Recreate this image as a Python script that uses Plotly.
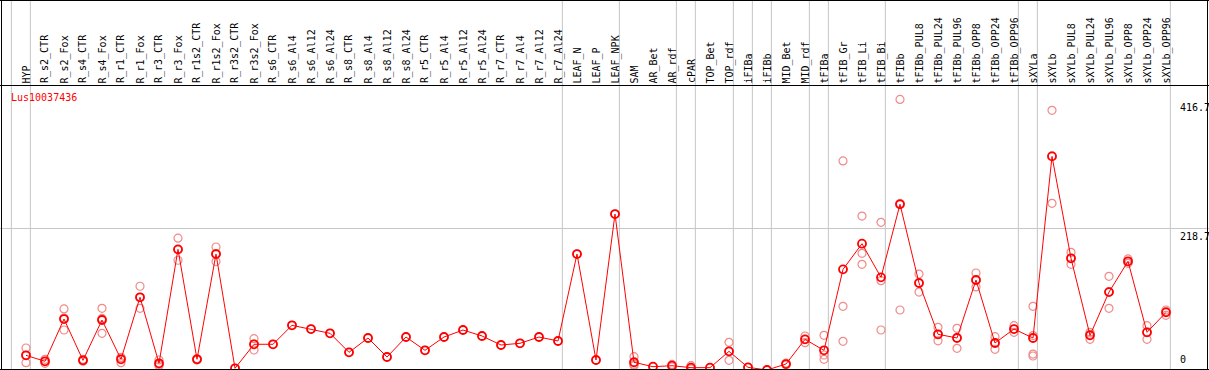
import plotly.graph_objects as go

W, H = 1209, 370

categories = [
    "HYP", "R_s2_CTR", "R_s2_Fox", "R_s4_CTR", "R_s4_Fox", "R_r1_CTR", "R_r1_Fox",
    "R_r3_CTR", "R_r3_Fox", "R_r1s2_CTR", "R_r1s2_Fox", "R_r3s2_CTR", "R_r3s2_Fox",
    "R_s6_CTR", "R_s6_Al4", "R_s6_Al12", "R_s6_Al24", "R_s8_CTR", "R_s8_Al4",
    "R_s8_Al12", "R_s8_Al24", "R_r5_CTR", "R_r5_Al4", "R_r5_Al12", "R_r5_Al24",
    "R_r7_CTR", "R_r7_Al4", "R_r7_Al12", "R_r7_Al24", "LEAF_N", "LEAF_P", "LEAF_NPK",
    "SAM", "AR_Bet", "AR_rdf", "cPAR", "TOP_Bet", "TOP_rdf", "iFIBa", "iFIBb",
    "MID_Bet", "MID_rdf", "tFIBa", "tFIB_Gr", "tFIB_Li", "tFIB_Bi", "tFIBb",
    "tFIBb_PUL8", "tFIBb_PUL24", "tFIBb_PUL96", "tFIBb_OPP8", "tFIBb_OPP24", "tFIBb_OPP96",
    "sXYLa", "sXYLb", "sXYLb_PUL8", "sXYLb_PUL24", "sXYLb_PUL96", "sXYLb_OPP8",
    "sXYLb_OPP24", "sXYLb_OPP96",
]

mean_values = [
    22.6, 13.4, 78.5, 14.9, 77.0, 16.5, 112.0, 10.3, 185.8, 16.5, 178.6, 2.6, 39.6,
    39.6, 68.8, 63.1, 56.5, 27.2, 49.3, 20.0, 50.8, 30.3, 50.8, 61.6, 52.4,
    38.5, 41.1, 50.8, 44.7, 178.6, 15.4, 240.2,
    11.9, 5.1, 6.6, 3.6, 3.6, 28.7, 4.1, 0.0, 9.2, 47.2, 30.3, 155.0, 194.5, 142.7, 255.2,
    134.0, 55.0, 49.3, 138.6, 41.6, 63.1,
    49.3, 329.0, 172.0, 53.4, 120.0, 167.4, 58.0, 88.8,
]

replicate_values = [
    [33.9, 11.3, 22.6], [10.3, 16.5, 13.4], [94.0, 61.6, 79.9], [14.9, 13.5, 16.3],
    [95.0, 56.5, 79.5], [19.5, 11.3, 18.7], [129.0, 95.0, 112.0], [15.4, 6.7, 8.8],
    [203.0, 169.0, 185.4], [15.5, 17.5, 16.5], [189.4, 167.0, 179.4], [2.6],
    [48.3, 30.8, 39.7],
    [39.6], [68.8], [63.1], [56.5], [27.2], [49.3], [20.0], [50.8], [30.3], [50.8],
    [61.6], [52.4], [38.5], [41.1], [50.8], [44.7], [178.6], [15.4], [240.2],
    [20.5, 6.6, 8.6], [5.1], [8.6, 4.6], [6.6, 1.6], [3.6], [42.6, 14.9, 28.6],
    [4.1], [0.0], [10.5, 8.0], [52.4, 42.1, 47.1], [53.4, 23.1, 16.4],
    [322.0, 98.0, 44.2], [237.0, 179.7, 162.7], [227.4, 137.6, 61.6],
    [416.7, 92.4, 256.5],
    [147.8, 120.0, 134.0], [65.7, 45.0, 55.0], [64.2, 33.4, 50.0],
    [149.4, 128.0, 138.5], [51.3, 31.8, 41.7], [68.3, 58.0, 63.0],
    [98.0, 24.6, 21.6, 53.0], [400.0, 256.7, 330.0], [181.2, 162.7, 172.0],
    [58.0, 47.2, 55.0], [144.2, 95.0, 120.8], [171.0, 164.3, 167.0],
    [68.3, 47.2, 58.5], [92.4, 84.2, 89.8],
]

# indices of the last category of each group (separator drawn just after them)
group_ends = [-1, 0, 28, 31, 34, 35, 37, 38, 39, 41, 42, 45, 52, 53, 60]

gene_name = "Lus10037436"
y_axis_max = 437.4
y_labels = ["416.7", "218.7", "0"]
y_label_vals = [416.7, 218.7, 0.0]

FONT = "DejaVu Sans Mono"

def px(x):
    return x / W

def py(y):
    return 1 - y / H

xi = list(range(len(categories)))
rep_x, rep_y = [], []
for i, reps in enumerate(replicate_values):
    for v in reps:
        rep_x.append(i)
        rep_y.append(v)

fig = go.Figure()
fig.add_trace(go.Scatter(
    x=rep_x, y=rep_y, mode="markers",
    marker=dict(symbol="circle-open", size=8, color="#f08a8a", line=dict(width=1.2)),
    hoverinfo="skip", showlegend=False,
))
fig.add_trace(go.Scatter(
    x=xi, y=mean_values, mode="lines+markers",
    line=dict(color="#ff0000", width=1),
    marker=dict(symbol="circle-open", size=8, color="#ff0000", line=dict(width=1.8)),
    showlegend=False,
))

x0 = -26 / 19
x1 = x0 + W / 19

shapes = []
for g in group_ends:
    shapes.append(dict(type="line", xref="x", yref="paper", x0=g + 0.23, x1=g + 0.23,
                       y0=0, y1=1, line=dict(color="#c6c6c6", width=1), layer="below"))
black = dict(color="#000000", width=1)
for (ax0, ay0, ax1, ay1) in [(0, 0.5, W, 0.5), (0, 85.5, W, 85.5), (0, 369.5, W, 369.5),
                             (1.5, 0, 1.5, H), (1207.5, 0, 1207.5, H)]:
    shapes.append(dict(type="line", xref="paper", yref="paper", x0=px(ax0), x1=px(ax1),
                       y0=py(ay0), y1=py(ay1), line=black, layer="above"))

annotations = [
    dict(text=gene_name, xref="paper", yref="paper", x=px(8.5), y=py(97), xanchor="left",
         yanchor="middle", showarrow=False, font=dict(family=FONT, size=10, color="#ff0000")),
]
for i, cat in enumerate(categories):
    annotations.append(dict(text=cat, xref="x", yref="paper", x=i, y=py(84.5),
                            xanchor="center", yanchor="bottom", textangle=-90,
                            showarrow=False, borderpad=0,
                            font=dict(family=FONT, size=10, color="#000000")))
for lab, val in zip(y_labels, y_label_vals):
    if val == 0:
        annotations.append(dict(text=lab, xref="paper", yref="y", x=px(1177.5), y=val,
                                xanchor="left", yanchor="bottom", yshift=3, showarrow=False,
                                font=dict(family=FONT, size=10, color="#000000")))
    else:
        annotations.append(dict(text=lab, xref="paper", yref="y", x=px(1177.5), y=val,
                                xanchor="left", yanchor="top", yshift=-1, showarrow=False,
                                font=dict(family=FONT, size=10, color="#000000")))

fig.update_layout(
    width=W, height=H, margin=dict(l=0, r=0, t=0, b=0),
    paper_bgcolor="white", plot_bgcolor="white",
    shapes=shapes, annotations=annotations,
    xaxis=dict(range=[x0, x1], domain=[0, 1], showgrid=False, zeroline=False,
               showline=False, showticklabels=False, ticks=""),
    yaxis=dict(range=[0, y_axis_max], domain=[0, py(86)], showgrid=True,
               gridcolor="#c6c6c6", gridwidth=1, tickmode="array", tickvals=[218.7],
               showticklabels=False, zeroline=False, showline=False, ticks=""),
    hovermode="closest",
)

fig.write_html("out.html", config={"displayModeBar": False},
               post_script="document.body.style.margin='0';document.body.style.overflow='hidden';")
